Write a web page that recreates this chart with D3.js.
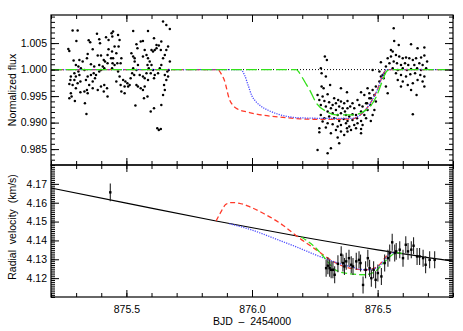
<!DOCTYPE html>
<html>
<head>
<meta charset="utf-8">
<script src="https://cdn.jsdelivr.net/npm/d3@7"></script>
<style>
  body { margin: 0; background: #fff; }
  text { font-family: "Liberation Sans", Arial, sans-serif; font-size: 10.5px; fill: #000; }
  .tick line { stroke: #000; }
  .domain { display: none; }
</style>
</head>
<body>
<div id="chart"></div>
<script>
// photometry: [BJD - 2454000, normalized flux]
var fluxPre = [
  [875.286,1.00736],[875.306,1.00736],[875.301,1.00541],[875.269,1.00390],[875.273,1.00353],[875.350,1.00554],
  [875.356,1.00516],[875.383,1.00674],[875.392,1.00573],[875.395,1.00497],[875.419,1.00611],[875.429,1.00560],
  [875.441,1.00686],[875.366,1.00384],[875.346,1.00296],[875.343,1.00214],[875.326,1.00151],[875.290,1.00170],
  [875.313,1.00183],[875.299,1.00088],[875.309,1.00057],[875.386,1.00265],[875.399,1.00265],[875.410,1.00183],
  [875.429,1.00384],[875.425,1.00277],[875.415,1.00151],[875.439,1.00214],[875.445,1.00120],[875.425,1.00120],
  [875.359,1.00101],[875.372,1.00057],[875.392,1.00088],[875.406,1.00057],[875.319,1.00025],[875.333,0.99994],
  [875.309,0.99962],[875.293,0.99931],[875.279,0.99868],[875.299,0.99868],[875.313,0.99900],[875.277,0.99805],
  [875.293,0.99805],[875.317,0.99774],[875.273,0.99730],[875.286,0.99711],[875.306,0.99742],[875.339,0.99805],
  [875.346,0.99868],[875.359,0.99900],[875.370,0.99931],[875.379,0.99900],[875.392,0.99962],[875.399,0.99994],
  [875.412,1.00025],[875.375,0.99837],[875.366,0.99774],[875.352,0.99711],[875.343,0.99617],[875.333,0.99585],
  [875.366,0.99648],[875.346,0.99554],[875.386,0.99617],[875.399,0.99679],[875.412,0.99711],[875.410,0.99585],
  [875.425,0.99491],[875.423,0.99648],[875.279,0.99554],[875.282,0.99491],[875.273,0.99460],[875.295,0.99409],
  [875.317,0.99573],[875.335,0.99365],[875.341,0.99164],[875.299,0.99648],
  [875.447,1.00717],[875.444,1.00623],[875.467,1.00655],[875.473,1.00560],[875.453,1.00434],[875.469,1.00434],
  [875.443,1.00340],[875.460,1.00309],[875.480,1.00214],[875.447,1.00214],[875.477,1.00120],[875.453,1.00088],
  [875.464,1.00120],[875.443,1.00025],[875.467,0.99962],[875.473,0.99868],[875.460,0.99774],[875.477,0.99711],
  [875.480,0.99585],[875.493,0.99554],[875.487,0.99805],[875.496,0.99774],[875.504,0.99742],[875.493,0.99680],
  [875.507,0.99680],[875.513,0.99711],[875.517,0.99837],[875.523,0.99931],[875.531,0.99900],[875.527,1.00025],
  [875.540,0.99994],[875.546,1.00088],[875.527,1.00246],[875.533,1.00214],[875.520,1.00309],[875.533,1.00151],
  [875.544,1.00403],[875.540,1.00479],[875.557,1.00529],[875.566,1.00541],[875.573,1.00372],[875.580,1.00277],
  [875.566,1.00246],[875.586,1.00214],[875.593,1.00151],[875.584,1.00088],[875.600,1.00088],[875.589,1.00025],
  [875.606,0.99994],[875.597,0.99931],[875.580,0.99931],[875.566,0.99868],[875.553,0.99900],[875.573,0.99837],
  [875.586,0.99805],[875.613,0.99900],[875.610,0.99837],[875.540,0.99711],[875.546,0.99680],[875.557,0.99648],
  [875.566,0.99617],[875.573,0.99680],[875.570,0.99460],[875.584,0.99491],[875.536,0.99321],[875.597,0.99208],
  [875.610,0.99271],[875.623,0.98893],[875.629,0.98862],[875.637,0.98881],[875.639,0.99334],[875.646,0.99522],
  [875.653,0.99617],[875.650,0.99711],[875.659,0.99805],[875.666,0.99868],[875.663,0.99962],[875.653,0.99900],
  [875.626,0.99931],[875.633,1.00025],[875.639,1.00088],[875.646,1.00214],[875.653,1.00277],[875.659,1.00372],
  [875.637,1.00372],[875.620,1.00403],[875.613,1.00372],[875.606,1.00340],[875.600,1.00372],[875.620,1.00466],
  [875.629,1.00453],[875.639,1.00529],[875.646,1.00906],[875.659,1.00843],[875.673,1.00768],[875.586,1.00730],
  [875.527,1.00730],[875.610,1.00592],[875.666,1.00434],[875.673,1.00151],[875.669,0.99994]
];

var fluxPost = [
  [876.290,1.00246],[876.298,1.00183],[876.274,1.00025],[876.277,0.99931],[876.294,0.99868],[876.277,0.99680],
  [876.311,0.99711],[876.285,0.99648],[876.354,0.99648],[876.261,0.99522],[876.281,0.99491],[876.301,0.99535],
  [876.378,0.99573],[876.268,0.99428],[876.288,0.99409],[876.307,0.99384],[876.327,0.99460],[876.343,0.99428],
  [876.321,0.99334],[876.334,0.99365],[876.354,0.99397],[876.367,0.99365],[876.380,0.99409],[876.400,0.99365],
  [876.420,0.99428],[876.434,0.99573],[876.447,0.99522],[876.460,0.99648],[876.454,0.99365],[876.467,0.99460],
  [876.274,0.99334],[876.294,0.99302],[876.314,0.99271],[876.334,0.99239],[876.347,0.99302],[876.361,0.99271],
  [876.370,0.99208],[876.380,0.99271],[876.391,0.99302],[876.407,0.99271],[876.427,0.99334],[876.440,0.99302],
  [876.458,0.99365],[876.301,0.99208],[876.321,0.99176],[876.341,0.99145],[876.354,0.99176],[876.374,0.99145],
  [876.387,0.99114],[876.400,0.99158],[876.414,0.99145],[876.434,0.99208],[876.447,0.99145],[876.460,0.99239],
  [876.274,0.99145],[876.288,0.99082],[876.307,0.99114],[876.327,0.99082],[876.347,0.99032],[876.365,0.99070],
  [876.380,0.99032],[876.400,0.99051],[876.418,0.99082],[876.434,0.99032],[876.454,0.99082],[876.281,0.99019],
  [876.301,0.98988],[876.321,0.98969],[876.341,0.98925],[876.354,0.98956],[876.374,0.98988],[876.387,0.98925],
  [876.407,0.98956],[876.420,0.98988],[876.440,0.98956],[876.268,0.98893],[876.294,0.98906],[876.334,0.98862],
  [876.354,0.98830],[876.378,0.98893],[876.394,0.98862],[876.414,0.98893],[876.434,0.98881],[876.268,0.98818],
  [876.314,0.98799],[876.341,0.98717],[876.347,0.98610],[876.261,0.98484],[876.301,0.98421],[876.314,0.98516],
  [876.434,0.98799],[876.367,0.98768],[876.380,0.98830],
  [876.564,1.00780],[876.566,1.00541],[876.584,1.00466],[876.553,1.00372],[876.560,1.00340],[876.633,1.00479],
  [876.659,1.00403],[876.686,1.00416],[876.480,0.99994],[876.513,1.00139],[876.540,1.00214],[876.553,1.00246],
  [876.573,1.00277],[876.586,1.00246],[876.600,1.00214],[876.613,1.00227],[876.626,1.00214],[876.640,1.00183],
  [876.653,1.00214],[876.673,1.00227],[876.686,1.00265],[876.697,1.00151],[876.547,1.00120],[876.564,1.00151],
  [876.577,1.00120],[876.593,1.00088],[876.609,1.00120],[876.622,1.00088],[876.646,1.00088],[876.666,1.00120],
  [876.679,1.00088],[876.533,1.00057],[876.560,1.00025],[876.580,0.99994],[876.600,1.00025],[876.617,0.99994],
  [876.633,1.00013],[876.657,1.00025],[876.673,0.99994],[876.693,1.00025],[876.573,0.99931],[876.593,0.99900],
  [876.613,0.99868],[876.630,0.99912],[876.649,0.99931],[876.670,0.99900],[876.686,0.99868],[876.580,0.99805],
  [876.600,0.99774],[876.620,0.99711],[876.640,0.99742],[876.659,0.99805],[876.679,0.99774],[876.593,0.99680],
  [876.633,0.99617],[876.655,0.99522],[876.686,0.99680],[876.533,0.99680],[876.540,0.99554],[876.513,0.99868],
  [876.527,0.99931],[876.524,0.99837],[876.507,0.99774],[876.493,0.99680],[876.480,0.99617],[876.467,0.99554],
  [876.487,0.99522],[876.473,0.99460],[876.493,0.99397],[876.471,0.99334],[876.487,0.99239],[876.480,0.99145],
  [876.473,0.99032],[876.640,0.99158],[876.520,0.99900],[876.507,0.99962]
];

// transit models (flux)
var fluxRed = [[875.2,1],[875.864,1],[875.876,0.9993],[875.89,0.9980],[875.91,0.9944],[875.925,0.9932],[875.937,0.9927],
  [875.99,0.9919],[876.043,0.9914],[876.123,0.9910],[876.19,0.9907],[876.30,0.9906],[876.40,0.9907],[876.43,0.9914],
  [876.455,0.9926],[876.48,0.9944],[876.50,0.9963],[876.52,0.9989],[876.536,1],[876.8,1]];
var fluxBlue = [[875.2,1],[875.955,1],[875.97,0.9990],[875.985,0.9970],[876.0,0.9950],[876.015,0.9940],[876.03,0.9933],
  [876.07,0.9922],[876.11,0.9915],[876.19,0.9909],[876.30,0.9908],[876.40,0.9908],[876.43,0.9914],[876.455,0.9926],
  [876.48,0.9944],[876.50,0.9963],[876.52,0.9989],[876.536,1],[876.8,1]];
var fluxGreen = [[875.2,1],[876.176,1],[876.19,0.9993],[876.21,0.9977],[876.229,0.9962],[876.256,0.9937],[876.296,0.9921],
  [876.335,0.99145],[876.40,0.99145],[876.455,0.9924],[876.495,0.9949],[876.52,0.9980],[876.535,0.9996],[876.548,1],[876.8,1]];

// radial velocities (km/s)
var rvTime = [875.436,876.295,876.302,876.309,876.315,876.322,876.329,876.342,876.355,876.362,876.368,876.375,876.386,
  876.395,876.402,876.415,876.426,876.432,876.442,876.452,876.461,876.468,876.475,876.484,876.492,876.501,876.515,
  876.528,876.541,876.548,876.558,876.568,876.574,876.588,876.601,876.612,876.621,876.634,876.643,876.657,876.667,
  876.681,876.691,876.707,876.727];
var rvValue = [4.1655,4.1253,4.1266,4.1253,4.1244,4.1244,4.1218,4.1276,4.1324,4.1280,4.1262,4.1289,4.1306,
  4.1271,4.1262,4.1289,4.1297,4.1280,4.1164,4.1244,4.1306,4.1253,4.1200,4.1244,4.1191,4.1227,4.1209,
  4.1280,4.1306,4.1333,4.1390,4.1333,4.1342,4.1351,4.1306,4.1377,4.1342,4.1351,4.1372,4.1315,4.1315,
  4.1306,4.1271,4.1297,4.1297];
var rvError = [0.0047,0.0045,0.0045,0.0045,0.0045,0.0045,0.0045,0.0045,0.0045,0.0045,0.0045,0.0045,0.0045,
  0.0045,0.0045,0.0045,0.0045,0.0045,0.0045,0.0045,0.0045,0.0045,0.0045,0.0045,0.0045,0.0045,0.0045,
  0.0045,0.0045,0.0045,0.0045,0.0045,0.0045,0.0045,0.0045,0.0045,0.0045,0.0045,0.0045,0.0045,0.0045,
  0.0045,0.0045,0.0045,0.0045];

// orbit and RM models
var rvOrbit = [[875.2,4.1678],[875.5,4.1598],[875.857,4.1503],[876.2,4.1418],[876.5,4.1350],[876.8,4.1290]];
var rvRed = [[875.857,4.1503],[875.875,4.1548],[875.895,4.1590],[875.917,4.1601],[875.95,4.1597],[875.99,4.1579],
  [876.05,4.1540],[876.123,4.1481],[876.176,4.1425],[876.256,4.1350],[876.322,4.1289],[876.388,4.1253],
  [876.455,4.1244],[876.50,4.1262],[876.534,4.1315],[876.554,4.1338]];
var rvBlue = [[875.91,4.1489],[876.0,4.1455],[876.1,4.1405],[876.189,4.1359],[876.25,4.1325],[876.322,4.1289],
  [876.388,4.1262],[876.455,4.1244],[876.495,4.1253],[876.534,4.1306],[876.554,4.1333],[876.57,4.1336]];
var rvGreen = [[876.196,4.1418],[876.25,4.1365],[876.30,4.1290],[876.33,4.1245],[876.38,4.1225],[876.45,4.1218],
  [876.49,4.1235],[876.52,4.1275],[876.55,4.1315],[876.575,4.1335],[876.60,4.1331]];

var xTicks = [875.5, 876.0, 876.5];
var fluxTicks = [0.985, 0.990, 0.995, 1.000, 1.005];
var rvTicks = [4.12, 4.13, 4.14, 4.15, 4.16, 4.17];

var svgWidth = 463;
var svgHeight = 331;
var left = 51, right = 453;
var top1 = 15, bot1 = 165, bot2 = 297;

var svg = d3.select("#chart")
  .append("svg")
  .attr("width", svgWidth)
  .attr("height", svgHeight);

var x = d3.scaleLinear().domain([875.2, 876.8]).range([left, right]);
var yFlux = d3.scaleLinear().domain([0.982, 1.0103]).range([bot1, top1]);
var yRv = d3.scaleLinear().domain([4.110, 4.180]).range([bot2, bot1]);

function minors(a, b, step) {
  var out = [];
  var n = Math.round((b - a) / step);
  for (var i = 0; i <= n; i++) out.push(+(a + i * step).toFixed(4));
  return out;
}

function frame(y, majors, minorVals, fmt, yTop, yBot, showX) {
  // left / right
  svg.append("g").attr("transform", `translate(${left},0)`)
    .call(d3.axisLeft(y).tickValues(minorVals).tickSize(-4).tickFormat(""));
  svg.append("g").attr("transform", `translate(${left},0)`)
    .call(d3.axisLeft(y).tickValues(majors).tickSize(-8).tickPadding(4).tickFormat(fmt));
  svg.append("g").attr("transform", `translate(${right},0)`)
    .call(d3.axisRight(y).tickValues(minorVals).tickSize(-4).tickFormat(""));
  svg.append("g").attr("transform", `translate(${right},0)`)
    .call(d3.axisRight(y).tickValues(majors).tickSize(-8).tickFormat(""));
  // top / bottom
  var xMinor = minors(875.2, 876.8, 0.1);
  svg.append("g").attr("transform", `translate(0,${yTop})`)
    .call(d3.axisTop(x).tickValues(xMinor).tickSize(-4).tickFormat(""));
  svg.append("g").attr("transform", `translate(0,${yTop})`)
    .call(d3.axisTop(x).tickValues(xTicks).tickSize(-7).tickFormat(""));
  svg.append("g").attr("transform", `translate(0,${yBot})`)
    .call(d3.axisBottom(x).tickValues(xMinor).tickSize(-4).tickFormat(""));
  svg.append("g").attr("transform", `translate(0,${yBot})`)
    .call(d3.axisBottom(x).tickValues(xTicks).tickSize(-7).tickPadding(9)
      .tickFormat(showX ? d3.format(".1f") : ""));
  svg.append("rect")
    .attr("x", left).attr("y", yTop)
    .attr("width", right - left).attr("height", yBot - yTop)
    .attr("fill", "none").attr("stroke", "#000").attr("stroke-width", 1.2);
}

function drawLine(g, data, y, color, dash, width) {
  g.append("path")
    .datum(data)
    .attr("fill", "none")
    .attr("stroke", color)
    .attr("stroke-width", width)
    .attr("stroke-dasharray", dash)
    .attr("d", d3.line().x(d => x(d[0])).y(d => y(d[1])).curve(d3.curveMonotoneX));
}

// top panel
var fluxPanel = svg.append("g");
fluxPanel.selectAll("circle")
  .data(fluxPre.concat(fluxPost))
  .enter()
  .append("circle")
  .attr("cx", d => x(d[0]))
  .attr("cy", d => yFlux(d[1]))
  .attr("r", 1.25)
  .attr("fill", "#000");
drawLine(fluxPanel, [[875.2,1],[876.8,1]], yFlux, "#000", "1,2", 1);
drawLine(fluxPanel, fluxRed, yFlux, "#ff3a2a", "5,3", 1.3);
drawLine(fluxPanel, fluxBlue, yFlux, "#4a4aff", "1.2,1.2", 1.3);
drawLine(fluxPanel, fluxGreen, yFlux, "#33e01a", "11,4", 1.3);

frame(yFlux, fluxTicks, minors(0.983, 1.010, 0.001), d3.format(".3f"), top1, bot1, false);

// bottom panel
var rvPanel = svg.append("g");
drawLine(rvPanel, rvOrbit, yRv, "#000", null, 1.2);
drawLine(rvPanel, rvRed, yRv, "#ff3a2a", "5,3", 1.3);
drawLine(rvPanel, rvBlue, yRv, "#4a4aff", "1.2,1.2", 1.3);
drawLine(rvPanel, rvGreen, yRv, "#33e01a", "6,3", 1.3);

rvPanel.selectAll("line.err")
  .data(rvTime)
  .enter()
  .append("line")
  .attr("class", "err")
  .attr("x1", d => x(d)).attr("x2", d => x(d))
  .attr("y1", (d, i) => yRv(rvValue[i] - rvError[i]))
  .attr("y2", (d, i) => yRv(rvValue[i] + rvError[i]))
  .attr("stroke", "#222").attr("stroke-width", 1.1);
rvPanel.selectAll("rect.pt")
  .data(rvTime)
  .enter()
  .append("rect")
  .attr("class", "pt")
  .attr("x", d => x(d) - 1.2)
  .attr("y", (d, i) => yRv(rvValue[i]) - 1.2)
  .attr("width", 2.4).attr("height", 2.4)
  .attr("fill", "#000");

frame(yRv, rvTicks, minors(4.110, 4.180, 0.001), d3.format(".2f"), bot1, bot2, true);

// axis titles
svg.append("text")
  .attr("transform", `translate(16,${(top1 + bot1) / 2}) rotate(-90)`)
  .attr("text-anchor", "middle")
  .text("Normalized flux");
svg.append("text")
  .attr("transform", `translate(16,${(bot1 + bot2) / 2 - 4}) rotate(-90)`)
  .attr("text-anchor", "middle")
  .style("white-space", "pre")
  .text("Radial  velocity  (km/s)");
svg.append("text")
  .attr("x", (left + right) / 2)
  .attr("y", 325)
  .attr("text-anchor", "middle")
  .style("white-space", "pre")
  .text("BJD  \u2013  2454000");
</script>
</body>
</html>
